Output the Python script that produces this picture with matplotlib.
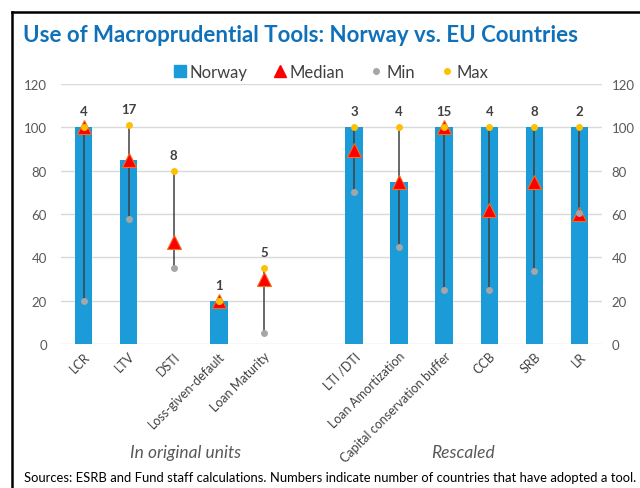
import numpy as np
import matplotlib
matplotlib.use("Agg")
import matplotlib.pyplot as plt
from matplotlib.lines import Line2D

plt.rcParams['font.family'] = ['Lato', 'DejaVu Sans']

categories = ["LCR", "LTV", "DSTI", "Loss-given-default", "Loan Maturity", "",
              "LTI /DTI", "Loan Amortization", "Capital conservation buffer", "CCB", "SRB", "LR"]
norway = [100, 85, np.nan, 20, np.nan, np.nan, 100, 75, 100, 100, 100, 100]
median = [100, 85, 47, 20, 30, np.nan, 89.5, 75, 100, 62, 75, 60]
vmin = [20, 57.5, 35, 20, 5, np.nan, 70, 45, 25, 25, 33.5, 60.5]
vmax = [100, 101, 80, 20, 35, np.nan, 100, 100, 100, 100, 100, 100]
counts = [4, 17, 8, 1, 5, None, 3, 4, 15, 4, 8, 2]
yticks = [0, 20, 40, 60, 80, 100, 120]

W, H = 640, 489
fig = plt.figure(figsize=(W / 100, H / 100), dpi=100)
ax = fig.add_axes([61 / W, 1 - 345 / H, (602 - 61) / W, (345 - 85) / H])

x = np.arange(len(categories))
blue = "#1B9BD7"
ax.bar(x, norway, width=0.39, color=blue, zorder=2)
for xi, lo, hi in zip(x, vmin, vmax):
    if not np.isnan(lo):
        ax.plot([xi, xi], [lo, hi], color="#404040", lw=1.1, zorder=3)
ax.plot(x, median, linestyle="none", marker="^", ms=9.5, color="#FF0000",
        markeredgecolor="#F07020", markeredgewidth=0.8, zorder=4)
ax.plot(x, vmin, linestyle="none", marker="o", ms=5, color="#A6A6A6",
        markeredgewidth=0, zorder=5)
ax.plot(x, vmax, linestyle="none", marker="o", ms=5, color="#FFC000",
        markeredgewidth=0, zorder=6)

for xi, c, hi in zip(x, counts, vmax):
    if c is not None:
        ax.annotate(str(c), (xi, hi), xytext=(0, 11.5), textcoords="offset points",
                    ha="center", va="center", fontsize=9.5, fontweight="bold",
                    color="#404040")

ax.set_xlim(-0.5, len(categories) - 0.5)
ax.set_ylim(0, 120)
ax.set_yticks(yticks)
ax.set_yticklabels([str(t) for t in yticks])
ax.yaxis.grid(True, color="#D9D9D9", lw=1, zorder=0)
ax.set_axisbelow(True)
for s in ax.spines.values():
    s.set_visible(False)
ax.tick_params(axis="y", length=0, labelsize=9.5, labelcolor="#595959", pad=10)
ax.tick_params(axis="x", length=0, pad=4)
ax.set_xticks(x)
ax.set_xticklabels(categories, rotation=45, ha="right", rotation_mode="anchor",
                   fontsize=9, color="#404040")

ax2 = ax.twinx()
ax2.set_ylim(0, 120)
ax2.set_yticks(yticks)
ax2.set_yticklabels([str(t) for t in yticks])
for s in ax2.spines.values():
    s.set_visible(False)
ax2.tick_params(axis="y", length=0, labelsize=9.5, labelcolor="#595959", pad=7)

# Title
fig.text(23 / W, 1 - 35 / H, "Use of Macroprudential Tools: Norway vs. EU Countries",
         fontsize=16, fontweight="bold", color="#1070B8", ha="left", va="center")

# Legend
handles = [
    Line2D([], [], linestyle="none", marker="s", ms=8, color=blue),
    Line2D([], [], linestyle="none", marker="^", ms=9, color="#FF0000"),
    Line2D([], [], linestyle="none", marker="o", ms=4, color="#A6A6A6"),
    Line2D([], [], linestyle="none", marker="o", ms=4, color="#FFC000"),
]
fig.legend(handles, ["Norway", "Median", "Min", "Max"], loc="center",
           bbox_to_anchor=(330 / W, 1 - 73 / H), ncol=4, frameon=False,
           fontsize=12, labelcolor="#404040", handletextpad=0.1, columnspacing=1.4,
           handlelength=1.0)

# Section labels
fig.text(186 / W, 1 - 453 / H, "In original units", fontsize=12.5, style="italic",
         color="#595959", ha="center", va="center")
fig.text(463 / W, 1 - 453 / H, "Rescaled", fontsize=12.5, style="italic",
         color="#595959", ha="center", va="center")

# Sources
fig.text(24 / W, 1 - 478 / H,
         "Sources: ESRB and Fund staff calculations. Numbers indicate number of countries that have adopted a tool.",
         fontsize=9.4, color="black", ha="left", va="center")

# Border (left and top)
fig.add_artist(Line2D([12 / W, 12 / W], [0, 1 - 13 / H], color="black", lw=1.8,
                      transform=fig.transFigure))
fig.add_artist(Line2D([12 / W, 1], [1 - 13 / H, 1 - 13 / H], color="black", lw=1.8,
                      transform=fig.transFigure))

fig.savefig("out.png", dpi=100)
